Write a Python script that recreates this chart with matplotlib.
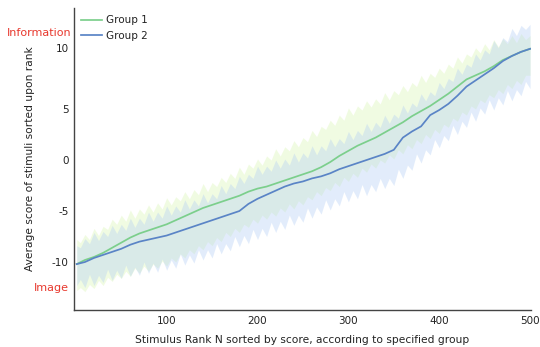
import matplotlib
matplotlib.use("Agg")
import matplotlib.pyplot as plt

# ---- data ----
line_rank = [1] + list(range(10, 501, 10))
group1_mean = [-10.2, -9.8, -9.5, -9.1, -8.6, -8.1, -7.6, -7.2, -6.9, -6.6, -6.3,
               -5.9, -5.5, -5.1, -4.7, -4.4, -4.1, -3.8, -3.5, -3.1, -2.8,
               -2.6, -2.3, -2.0, -1.7, -1.4, -1.1, -0.7, -0.2, 0.4, 0.9,
               1.4, 1.8, 2.2, 2.7, 3.2, 3.7, 4.3, 4.8, 5.3, 5.9,
               6.5, 7.2, 7.9, 8.3, 8.7, 9.2, 9.8, 10.2, 10.6, 10.9]
group2_mean = [-10.2, -10.0, -9.6, -9.3, -9.0, -8.7, -8.3, -8.0, -7.8, -7.6, -7.4,
               -7.1, -6.8, -6.5, -6.2, -5.9, -5.6, -5.3, -5.0, -4.3, -3.8,
               -3.4, -3.0, -2.6, -2.3, -2.1, -1.8, -1.6, -1.3, -0.9, -0.6,
               -0.3, 0.0, 0.3, 0.6, 1.0, 2.2, 2.8, 3.3, 4.4, 4.9,
               5.5, 6.3, 7.2, 7.8, 8.4, 9.0, 9.7, 10.2, 10.6, 10.9]

band_rank = [1] + list(range(5, 501, 5))
group1_upper = [-7.8, -8.1, -7.3, -7.8, -6.7, -7.4, -6.5, -6.8, -5.8, -6.3,
                -5.4, -6.0, -4.9, -5.7, -4.8, -5.3, -4.4, -5.1, -4.2, -4.8,
                -3.7, -4.4, -3.6, -4.0, -3.1, -3.8, -2.9, -3.4, -2.3, -3.1,
                -2.2, -2.6, -1.7, -2.2, -1.3, -1.8, -0.7, -1.4, -0.4, -0.8,
                0.1, -0.5, 0.4, 0.0, 1.1, 0.4, 1.3, 0.9, 1.9, 1.3,
                2.2, 1.8, 2.9, 2.3, 3.3, 3.0, 3.9, 3.4, 4.4, 3.9,
                5.1, 4.4, 5.3, 4.9, 5.8, 5.2, 6.0, 5.5, 6.6, 5.9,
                6.8, 6.4, 7.3, 6.7, 7.6, 7.2, 8.3, 7.6, 8.5, 8.1,
                9.0, 8.5, 9.4, 9.0, 10.1, 9.5, 10.4, 10.1, 11.0, 10.5,
                11.4, 10.8, 11.8, 11.1, 11.9, 11.4, 12.2, 11.5, 12.4, 11.8,
                12.2]
group1_lower = [-12.8, -12.5, -12.9, -12.2, -12.6, -11.8, -12.3, -11.5, -11.9, -11.2,
                -11.6, -10.9, -11.4, -10.6, -11.1, -10.4, -10.9, -10.2, -10.6, -9.9,
                -10.4, -9.6, -10.0, -9.2, -9.6, -8.8, -9.2, -8.4, -8.8, -8.0,
                -8.4, -7.6, -8.0, -7.1, -7.5, -6.7, -7.1, -6.3, -6.6, -5.8,
                -6.2, -5.4, -5.8, -5.1, -5.5, -4.7, -5.1, -4.3, -4.8, -4.0,
                -4.4, -3.6, -3.9, -3.1, -3.5, -2.7, -3.0, -2.2, -2.6, -1.7,
                -2.1, -1.3, -1.7, -0.8, -1.2, -0.4, -0.8, 0.0, -0.3, 0.5,
                0.1, 1.0, 0.6, 1.5, 1.1, 2.0, 1.6, 2.5, 2.1, 3.0,
                2.6, 3.5, 3.2, 4.1, 3.8, 4.7, 4.4, 5.3, 5.0, 5.9,
                5.6, 6.4, 6.1, 6.9, 6.5, 7.4, 7.0, 7.8, 7.4, 8.3,
                8.3]
group2_upper = [-8.4, -8.6, -7.7, -8.2, -7.1, -7.9, -7.0, -7.5, -6.4, -7.2,
                -6.3, -6.9, -5.7, -6.6, -5.7, -6.3, -5.1, -6.0, -5.1, -5.7,
                -4.5, -5.4, -4.5, -5.1, -3.9, -4.8, -3.9, -4.5, -3.3, -4.2,
                -3.3, -3.8, -2.5, -3.3, -2.3, -2.8, -1.6, -2.3, -1.4, -1.8,
                -0.6, -1.4, -0.6, -1.1, 0.0, -0.8, 0.1, -0.5, 0.7, -0.2,
                0.7, 0.2, 1.4, 0.5, 1.4, 0.9, 2.1, 1.3, 2.1, 1.6,
                2.8, 2.0, 2.9, 2.4, 3.6, 2.8, 3.7, 3.2, 4.4, 3.6,
                4.5, 4.1, 5.4, 4.6, 5.6, 5.2, 6.5, 5.8, 6.7, 6.3,
                7.6, 7.0, 8.0, 7.7, 9.0, 8.4, 9.4, 9.1, 10.4, 9.8,
                10.8, 10.4, 11.7, 11.0, 12.0, 11.6, 12.9, 12.2, 13.2, 12.8,
                13.3]
group2_lower = [-12.3, -11.7, -12.5, -11.2, -12.3, -11.3, -12.0, -10.7, -11.8, -10.8,
                -11.6, -10.3, -11.4, -10.5, -11.3, -10.0, -11.1, -10.1, -11.0, -9.7,
                -10.8, -9.8, -10.6, -9.2, -10.3, -9.3, -10.1, -8.8, -9.8, -8.8,
                -9.6, -8.2, -9.2, -8.2, -8.9, -7.5, -8.5, -7.4, -8.2, -6.8,
                -7.8, -6.7, -7.5, -6.1, -7.1, -6.0, -6.8, -5.4, -6.4, -5.4,
                -6.1, -4.7, -5.7, -4.6, -5.3, -3.9, -4.9, -3.8, -4.5, -3.1,
                -4.1, -3.0, -3.8, -2.4, -3.5, -2.4, -3.1, -1.8, -2.8, -1.8,
                -2.5, -0.9, -1.8, -0.5, -1.0, 0.6, -0.3, 1.0, 0.5, 2.0,
                1.2, 2.4, 1.9, 3.4, 2.5, 3.8, 3.2, 4.7, 3.8, 5.1,
                4.5, 5.9, 4.9, 6.1, 5.4, 6.8, 5.8, 6.9, 6.3, 7.7,
                7.0]

series_labels = ["Group 1", "Group 2"]
ytick_pos = [-10, -5, 0, 5, 11]
ytick_labels = ["-10", "-5", "0", "5", "10"]
xtick_pos = [100, 200, 300, 400, 500]

# ---- figure ----
plt.rcParams['font.family'] = ['DejaVu Sans']
fig = plt.figure(figsize=(5.4, 3.47), dpi=100)
ax = fig.add_axes([74/540, 1-310/347, 457/540, 302/347])

ax.fill_between(band_rank, group1_lower, group1_upper, color='#d4f5a8', alpha=0.33, linewidth=0)
ax.fill_between(band_rank, group2_lower, group2_upper, color='#b1cdf5', alpha=0.36, linewidth=0)
ax.plot(line_rank, group1_mean, color='#7ccf8c', lw=1.25, label=series_labels[0])
ax.plot(line_rank, group2_mean, color='#5a84c6', lw=1.25, label=series_labels[1])

ax.set_xlim(-2, 501)
ax.set_ylim(-14.7, 14.9)
ax.set_xticks(xtick_pos)
ax.set_yticks(ytick_pos)
ax.set_yticklabels(ytick_labels)
ax.tick_params(length=0, labelsize=7.5, colors='#222222', pad=4)
for s in ['top', 'right']:
    ax.spines[s].set_visible(False)
for s in ['left', 'bottom']:
    ax.spines[s].set_color('#444444')
    ax.spines[s].set_linewidth(1.0)

ax.set_xlabel("Stimulus Rank N sorted by score, according to specified group",
              fontsize=7.7, color='#222222', labelpad=7)
ax.set_ylabel("Average score of stimuli sorted upon rank",
              fontsize=7.7, color='#222222', labelpad=12)

fig.text(71/540, 1-33/347, "Information", color='#e8392e', fontsize=8,
         ha='right', va='center')
fig.text(69/540, 1-288/347, "Image", color='#e8392e', fontsize=8,
         ha='right', va='center')

leg = ax.legend(loc='upper left', frameon=False, fontsize=7.5,
                handlelength=2.0, handletextpad=0.4, borderaxespad=0.3,
                labelspacing=0.55, bbox_to_anchor=(0.0, 1.0))
for t in leg.get_texts():
    t.set_color('#222222')

fig.savefig("out.png", dpi=100)
